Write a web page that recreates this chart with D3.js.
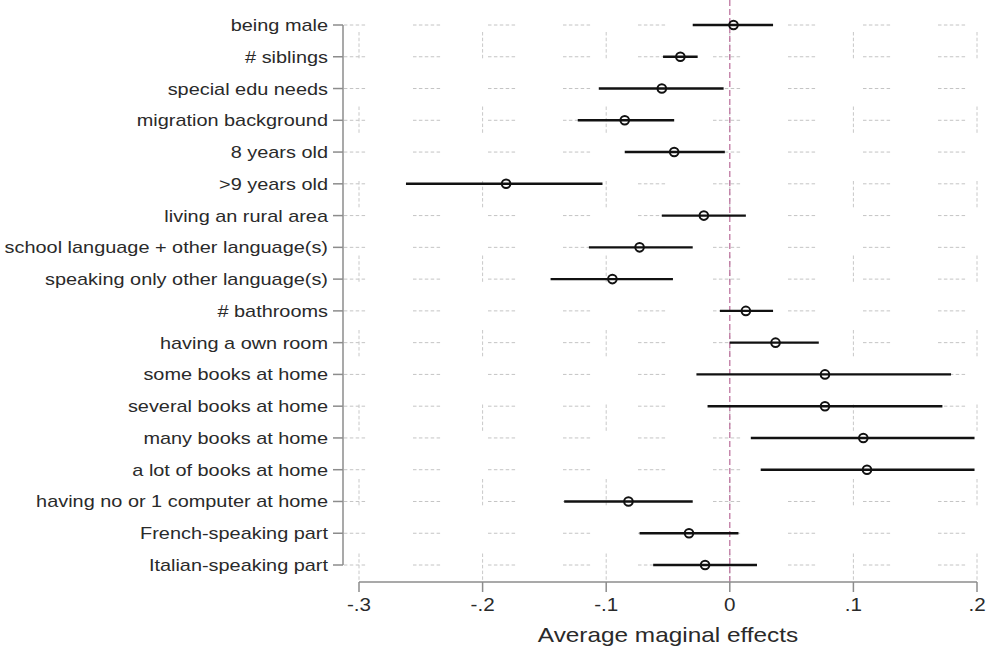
<!DOCTYPE html>
<html>
<head>
<meta charset="utf-8">
<script src="https://cdn.jsdelivr.net/npm/d3@7"></script>
<style>
  body { margin: 0; background: #fff; }
  text { font-family: "Liberation Sans", Arial, sans-serif; fill: #2a2a2a; }
</style>
</head>
<body>
<svg width="989" height="648"></svg>
<script>
// Categories, top to bottom
const categories = [
  "being male", "# siblings", "special edu needs", "migration background",
  "8 years old", ">9 years old", "living an rural area",
  "school language + other language(s)", "speaking only other language(s)",
  "# bathrooms", "having a own room", "some books at home",
  "several books at home", "many books at home", "a lot of books at home",
  "having no or 1 computer at home", "French-speaking part", "Italian-speaking part"
];

// Average marginal effects and confidence bounds
const estimates = [0.003, -0.040, -0.055, -0.085, -0.045, -0.181, -0.021, -0.073, -0.095,
  0.013, 0.037, 0.077, 0.077, 0.108, 0.111, -0.082, -0.033, -0.020];
const lower = [-0.030, -0.054, -0.106, -0.123, -0.085, -0.262, -0.055, -0.114, -0.145,
  -0.008, 0.000, -0.027, -0.018, 0.017, 0.025, -0.134, -0.073, -0.062];
const upper = [0.035, -0.026, -0.005, -0.045, -0.004, -0.103, 0.013, -0.030, -0.046,
  0.035, 0.072, 0.179, 0.172, 0.198, 0.198, -0.030, 0.007, 0.022];

const xTicks = [-0.3, -0.2, -0.1, 0, 0.1, 0.2];
const xTickLabels = ["-.3", "-.2", "-.1", "0", ".1", ".2"];

const svg = d3.select("svg");

const x = d3.scaleLinear().domain([-0.3, 0.2]).range([359, 977]);
const y = d3.scalePoint().domain(categories).range([25, 565]);

const axisX = 343, axisY = 582;

// Grid: horizontal rows
svg.append("g").selectAll("line")
  .data(categories)
  .enter().append("line")
  .attr("x1", axisX).attr("x2", 985)
  .attr("y1", d => y(d)).attr("y2", d => y(d))
  .style("stroke", "#c4c4c4")
  .style("stroke-width", 1)
  .style("stroke-dasharray", "3.5,2.4,3.5,2.4,3.5,2.4,3.5,2.4,3.5,47.9")
  .style("stroke-dashoffset", 5);

// Grid: vertical at ticks
svg.append("g").selectAll("line")
  .data(xTicks)
  .enter().append("line")
  .attr("x1", d => x(d)).attr("x2", d => x(d))
  .attr("y1", 32).attr("y2", axisY)
  .style("stroke", "#c8c8c8")
  .style("stroke-width", 1)
  .style("stroke-dasharray", "3.5,2.2,3.5,2.2,3.5,2.2,3.5,2.2,3.5,48.2");

// Reference line at zero
svg.append("line")
  .attr("x1", x(0)).attr("x2", x(0))
  .attr("y1", 0).attr("y2", axisY)
  .style("stroke", "#b86a98")
  .style("stroke-width", 1.2)
  .style("stroke-dasharray", "6,3");

// Y axis
const yAxis = svg.append("g");
yAxis.append("line")
  .attr("x1", axisX).attr("x2", axisX)
  .attr("y1", y(categories[0])).attr("y2", y(categories[categories.length - 1]))
  .style("stroke", "#8c8c8c").style("stroke-width", 1.5);
yAxis.selectAll(".tick")
  .data(categories)
  .enter().append("line")
  .attr("x1", axisX - 10).attr("x2", axisX)
  .attr("y1", d => y(d)).attr("y2", d => y(d))
  .style("stroke", "#8c8c8c").style("stroke-width", 1.5);
yAxis.selectAll("text")
  .data(categories)
  .enter().append("text")
  .attr("transform", d => `translate(328,${y(d) + 6}) scale(1.17,1)`)
  .attr("text-anchor", "end")
  .style("font-size", "17px")
  .text(d => d);

// X axis
const xAxis = svg.append("g");
xAxis.append("line")
  .attr("x1", x(-0.3)).attr("x2", x(0.2))
  .attr("y1", axisY).attr("y2", axisY)
  .style("stroke", "#8c8c8c").style("stroke-width", 1.5);
xAxis.selectAll(".tick")
  .data(xTicks)
  .enter().append("line")
  .attr("x1", d => x(d)).attr("x2", d => x(d))
  .attr("y1", axisY).attr("y2", axisY + 10)
  .style("stroke", "#8c8c8c").style("stroke-width", 1.5);
xAxis.selectAll("text")
  .data(xTicks)
  .enter().append("text")
  .attr("transform", (d, i) => `translate(${x(d)},${axisY + 29}) scale(1.18,1)`)
  .attr("text-anchor", "middle")
  .style("font-size", "17.5px")
  .text((d, i) => xTickLabels[i]);

svg.append("text")
  .attr("transform", `translate(${(x(-0.3) + x(0.2)) / 2},642) scale(1.16,1)`)
  .attr("text-anchor", "middle")
  .style("font-size", "21px")
  .text("Average maginal effects");

// Confidence intervals
svg.append("g").selectAll("line")
  .data(categories)
  .enter().append("line")
  .attr("x1", (d, i) => x(lower[i])).attr("x2", (d, i) => x(upper[i]))
  .attr("y1", d => y(d)).attr("y2", d => y(d))
  .style("stroke", "#111")
  .style("stroke-width", 2.4);

// Point estimates
svg.append("g").selectAll("circle")
  .data(categories)
  .enter().append("circle")
  .attr("cx", (d, i) => x(estimates[i]))
  .attr("cy", d => y(d))
  .attr("r", 4.3)
  .style("fill", "none")
  .style("stroke", "#111")
  .style("stroke-width", 2);
</script>
</body>
</html>
